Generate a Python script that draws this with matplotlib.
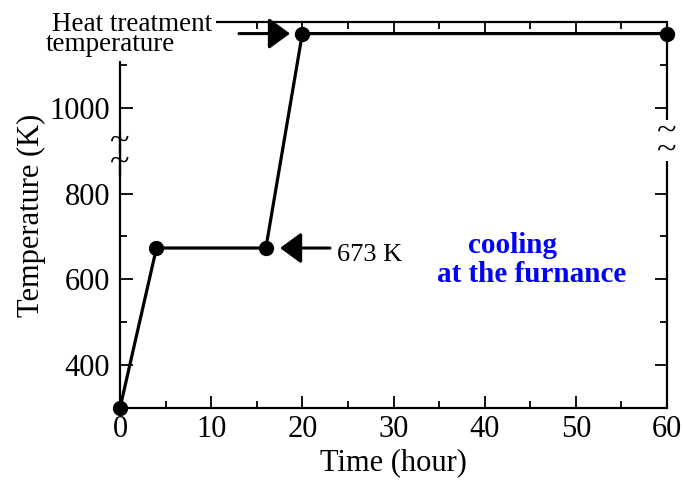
import numpy as np
import matplotlib.pyplot as plt
from matplotlib.patches import Rectangle
from matplotlib.ticker import MultipleLocator, FixedLocator

plt.rcParams['font.family'] = ['Liberation Serif', 'DejaVu Serif']

# heat treatment schedule: time (hour) vs temperature (K)
time_h = [0, 4, 16, 20, 60]
temp_k = [300, 673, 673, 1173, 1173]

x_ticks = [0, 10, 20, 30, 40, 50, 60]
y_ticks = [400, 600, 800, 1000]
y_minor = [500, 700, 1100]

fig = plt.figure(figsize=(6.84, 4.8), dpi=100)
ax = fig.add_axes([120 / 684, 1 - 408 / 480, 547 / 684, 386 / 480])

ax.plot(time_h, temp_k, color='k', lw=2.3, marker='o', ms=10,
        clip_on=False, zorder=5)

ax.set_xlim(0, 60)
ax.set_ylim(300, 1200)
ax.set_xticks(x_ticks)
ax.set_yticks(y_ticks)
ax.xaxis.set_minor_locator(MultipleLocator(5))
ax.yaxis.set_minor_locator(FixedLocator(y_minor))
ax.tick_params(which='both', direction='in', top=True, right=True,
               width=1.3, labelsize=22)
ax.tick_params(which='major', length=9)
ax.tick_params(which='minor', length=5)
ax.tick_params(axis='x', pad=5)
ax.tick_params(axis='y', pad=7)

for s in ['top', 'bottom']:
    ax.spines[s].set_linewidth(1.6)
ax.spines['left'].set_visible(False)
ax.spines['right'].set_visible(False)

# broken side axes
ytr = ax.get_yaxis_transform()
for x0, segs in [(0, [(300, 944), (838, 1200)]), (1, [(300, 875), (972, 1200)])]:
    for y0, y1 in segs:
        ax.plot([x0, x0], [y0, y1], transform=ytr, color='k', lw=1.6,
                clip_on=False, solid_capstyle='butt')
ax.text(0, 897, '~\n~', transform=ytr, ha='center', va='center',
        fontsize=26, linespacing=0.5)
ax.text(1, 924, '~\n~', transform=ytr, ha='center', va='center',
        fontsize=26, linespacing=0.43)

ax.set_xlabel('Time (hour)', fontsize=22)
ax.set_ylabel('Temperature (K)', fontsize=22)
ax.xaxis.set_label_coords(0.5, -0.105)
ax.yaxis.set_label_coords(-0.135, 0.5)

arrow = dict(arrowstyle='-|>,head_length=1.3,head_width=0.95',
             mutation_scale=10, lw=2.2, color='k', shrinkA=0, shrinkB=0)
ax.annotate('', xy=(18.65, 1173), xytext=(13.05, 1173),
            arrowprops=arrow, annotation_clip=False)
ax.annotate('', xy=(17.55, 673), xytext=(23.03, 673),
            arrowprops=arrow, annotation_clip=False)

ax.text(23.8, 641.7, '673 K', fontsize=19, va='baseline')
ax.text(38.2, 662.5, 'cooling', color='#0000ff', fontsize=21,
        fontweight='bold', va='baseline')
ax.text(34.8, 593, 'at the furnance', color='#0000ff', fontsize=21,
        fontweight='bold', va='baseline')

# white backing so the label sits over the corner of the frame
fig.patches.append(Rectangle((0, 1 - 61 / 480), 216 / 684, 61 / 480,
                             transform=fig.transFigure, facecolor='white',
                             edgecolor='none'))
fig.text(52 / 684, 1 - 31 / 480, 'Heat treatment', fontsize=19.5,
         va='baseline')
fig.text(46 / 684, 1 - 51 / 480, 'temperature', fontsize=19.5,
         va='baseline')

fig.savefig('out.png', dpi=100)
